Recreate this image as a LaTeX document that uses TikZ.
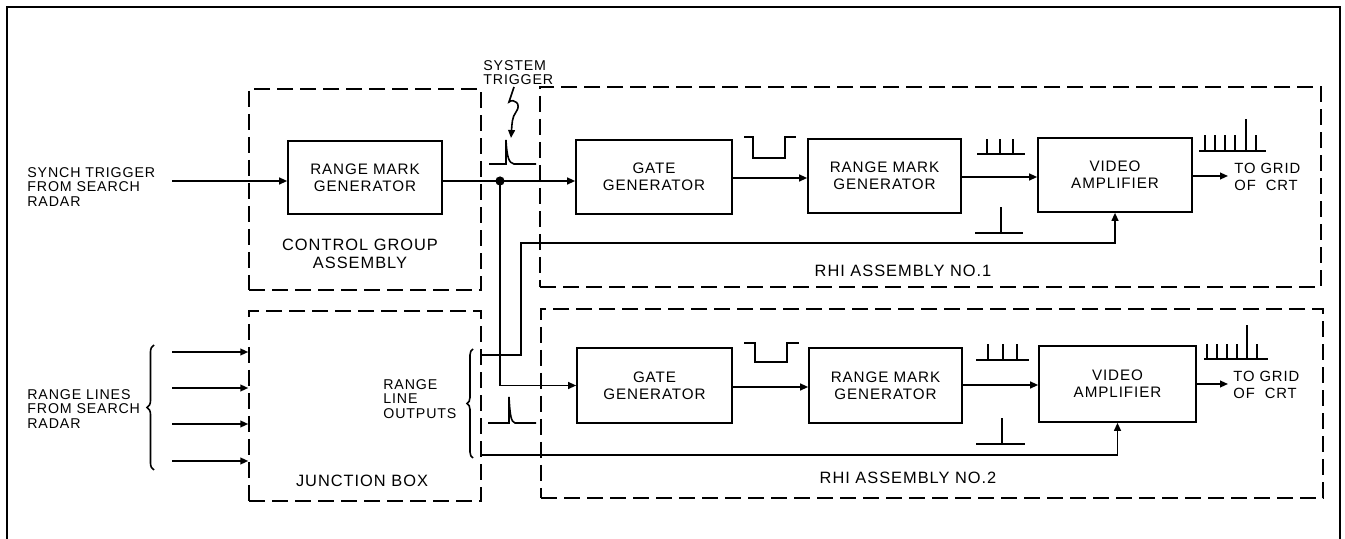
\documentclass[tikz,border=0pt]{standalone}
\usepackage{fontspec}
\setmainfont{Liberation Sans}[LetterSpace=6]
\usetikzlibrary{arrows.meta,decorations.pathreplacing}
\begin{document}
\begin{tikzpicture}[x=0.5pt,y=-0.5pt,
  ln/.style={line width=0.8pt},
  arr/.style={line width=0.8pt,-{Triangle[length=4pt,width=3.4pt]}},
  blk/.style={draw,line width=0.8pt,inner sep=0pt,align=center,font=\fontsize{7.6}{8.5}\selectfont},
  grp/.style={draw,line width=0.75pt,dash pattern=on 8pt off 3.5pt,inner sep=0pt},
  txt/.style={inner sep=0pt,align=left,font=\fontsize{7.1}{7.4}\selectfont},
  lbl/.style={inner sep=0pt,align=center,font=\fontsize{8.2}{9}\selectfont},
  wave/.style={line width=0.8pt,line join=miter}
]
\useasboundingbox (0,0) rectangle (1345,539);
% outer frame
\draw[line width=1.4pt] (7,539) -- (7,7) -- (1340,7) -- (1340,539);

% group boxes
\node[grp,minimum width=116pt,minimum height=100.5pt] (cga) at (365,189.5) {};
\node[grp,minimum width=116pt,minimum height=95pt] (jb) at (365,406) {};
\node[grp,minimum width=390.5pt,minimum height=100pt] (rhi1) at (930.5,187) {};
\node[grp,minimum width=391pt,minimum height=94.5pt] (rhi2) at (932,403.5) {};

% blocks
\node[blk,minimum width=77pt,minimum height=36.5pt] (cR) at (365,177.5) {RANGE MARK\\GENERATOR};
\node[blk,minimum width=78pt,minimum height=37pt] (G1) at (654,177) {GATE\\GENERATOR};
\node[blk,minimum width=76.5pt,minimum height=37pt] (R1) at (884.5,176) {RANGE MARK\\GENERATOR};
\node[blk,minimum width=77pt,minimum height=37pt] (V1) at (1115,175) {VIDEO\\AMPLIFIER};
\node[blk,minimum width=77.5pt,minimum height=37.5pt] (G2) at (654.5,385.5) {GATE\\GENERATOR};
\node[blk,minimum width=76.5pt,minimum height=37.5pt] (R2) at (885.5,385.5) {RANGE MARK\\GENERATOR};
\node[blk,minimum width=78.5pt,minimum height=38pt] (V2) at (1117.5,384) {VIDEO\\AMPLIFIER};

% texts
\node[txt,anchor=west] (synch) at (27,187) {SYNCH TRIGGER\\FROM SEARCH\\RADAR};
\node[txt,anchor=west] (rlines) at (27,409) {RANGE LINES\\FROM SEARCH\\RADAR};
\node[txt,anchor=west,font=\fontsize{7.1}{7}\selectfont] (st) at (483,73) {SYSTEM\\TRIGGER};
\node[txt,anchor=west,font=\fontsize{7.1}{7.25}\selectfont] (rlo) at (383,399) {RANGE\\LINE\\OUTPUTS};
\node[txt,anchor=west,font=\fontsize{7.4}{8.5}\selectfont] (tg1) at (1234,177) {TO GRID\\OF\ \ CRT};
\node[txt,anchor=west,font=\fontsize{7.4}{8.5}\selectfont] (tg2) at (1233,385) {TO GRID\\OF\ \ CRT};
\node[lbl] (cgal) at (360,254) {CONTROL GROUP\\ASSEMBLY};
\node[lbl] (jbl) at (362,481) {JUNCTION BOX};
\node[lbl] (r1l) at (903,271) {RHI ASSEMBLY NO.1};
\node[lbl] (r2l) at (908,478) {RHI ASSEMBLY NO.2};

% coordinates
\coordinate (sin) at (172,181);
\coordinate (jn) at (500,181);
\coordinate (o1) at (1228,176);
\coordinate (o2) at (1228,384);
\coordinate (st1) at (514,87);
\coordinate (stp) at (511,138);

% connectors
\draw[arr] (sin) -- (sin -| cR.west);
\draw[ln] (cR.east |- jn) -- (jn);
\draw[arr] (jn) -- (jn -| G1.west);
\draw[arr] (jn) |- (G2.west);
\fill (jn) circle[radius=2.3pt];
\draw[arr] (G1.east |- 0,178) -- (R1.west |- 0,178);
\draw[arr] (R1.east |- 0,177) -- (V1.west |- 0,177);
\draw[arr] (V1.east |- o1) -- (o1);
\draw[arr] (G2.east |- 0,387) -- (R2.west |- 0,387);
\draw[arr] (R2.east |- 0,385) -- (V2.west |- 0,385);
\draw[arr] (V2.east |- o2) -- (o2);
\draw[arr] (jb.east |- 0,355) -| (521,243) -| (V1.south);
\draw[arr] (jb.east |- 0,455) -| (V2.south);
\foreach \y/\n in {352/1,388/2,424/3,461/4}{
  \coordinate (in\n) at (172,\y);
  \draw[arr] (in\n) -- (in\n -| jb.west);
}
% system trigger squiggle
\draw[arr] (st1) -- (509,102) .. controls (514,98) and (522,104) .. (516,112)
  .. controls (512,117) and (512,124) .. (stp);

% braces
\draw[ln,decorate,decoration={brace,amplitude=3.5pt}] (154,470) -- (154,345);
\draw[ln,decorate,decoration={brace,amplitude=3pt}] (473,458) -- (473,349);

% waveforms
\draw[wave] (489,164) -- (506,164) -- (506,140) .. controls (507,158) and (509,163) .. (514,164) -- (536,164);
\draw[wave] (488,423) -- (509,423) -- (509,397) .. controls (510,415) and (511,422) .. (515,423) -- (536,423);
\draw[wave] (744,137) -- (753,137) -- (753,158) -- (785,158) -- (785,137) -- (796,137);
\draw[wave] (744,343) -- (755,343) -- (755,362) -- (787,362) -- (787,343) -- (799,343);
% range mark trains
\draw[wave] (977,154) -- (1025,154);
\foreach \x in {987,1000,1013} \draw[wave] (\x,154) -- (\x,139);
\draw[wave] (976,360) -- (1029,360);
\foreach \x in {988,1003,1017} \draw[wave] (\x,360) -- (\x,344);
% trigger spikes
\draw[wave] (975,233) -- (1023,233);
\draw[wave] (1001,233) -- (1001,207);
\draw[wave] (976,444) -- (1025,444);
\draw[wave] (1002,444) -- (1002,418);
% video output
\draw[wave] (1199,151) -- (1266,151);
\foreach \x in {1205,1215,1225,1235,1256} \draw[wave] (\x,151) -- (\x,135);
\draw[wave] (1246,151) -- (1246,119);
\draw[wave] (1204,359) -- (1268,359);
\foreach \x in {1207,1217,1227,1237,1257} \draw[wave] (\x,359) -- (\x,344);
\draw[wave] (1247,359) -- (1247,325);
\end{tikzpicture}
\end{document}
